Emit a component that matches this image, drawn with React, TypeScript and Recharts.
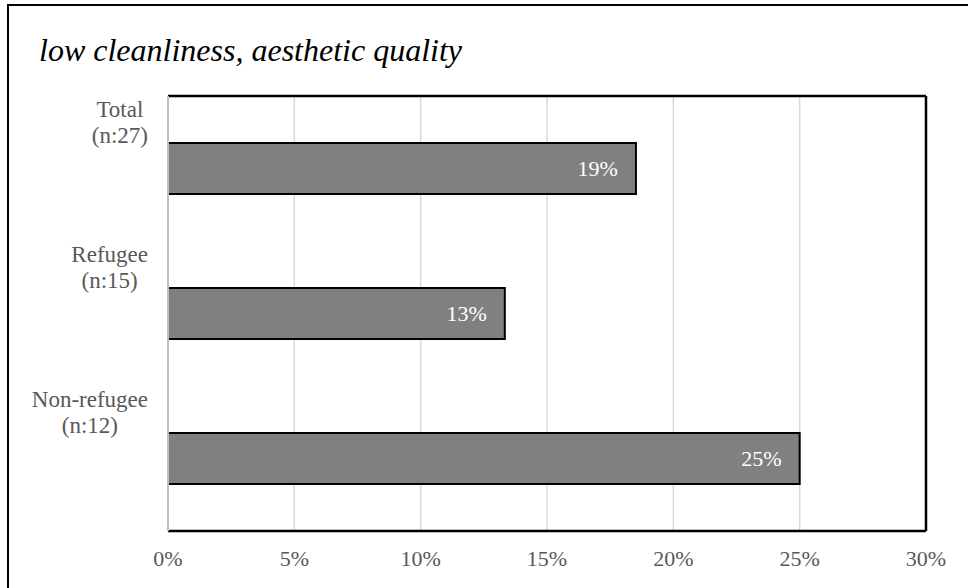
import React from 'react'
import {
  BarChart, Bar, XAxis, YAxis, CartesianGrid, LabelList, ReferenceLine,
} from 'recharts'

const CATEGORIES = ['Total', 'Refugee', 'Non-refugee']
const SAMPLE_SIZES = ['(n:27)', '(n:15)', '(n:12)']
const SHARES = [0.1852, 0.1333, 0.25]
const X_TICKS = [0, 0.05, 0.1, 0.15, 0.2, 0.25, 0.3]

const DATA = CATEGORIES.map((name, i) => ({ name, n: SAMPLE_SIZES[i], value: SHARES[i] }))

const FONT = '"Liberation Serif", "Times New Roman", serif'
const GREY_TEXT = '#595959'

const pct = (v: number) => `${Math.round(v * 100)}%`

function CategoryTick(props: any) {
  const { y, payload, index } = props
  const row = DATA[index] ?? DATA.find(d => d.name === payload.value)
  return (
    <foreignObject x={0} y={y - 46 - 26} width={148} height={52}>
      <div style={{ textAlign: 'right', fontFamily: FONT, fontSize: 23, lineHeight: '26px', color: GREY_TEXT }}>
        <span style={{ display: 'inline-block', textAlign: 'center' }}>
          {payload.value}<br />{row?.n}
        </span>
      </div>
    </foreignObject>
  )
}

export default function App() {
  return (
    <div style={{ position: 'relative', width: 968, height: 588, overflow: 'hidden', background: '#fff' }}>
      <style>{'body{margin:0}'}</style>
      <div style={{
        position: 'absolute', left: 7, top: 4, width: 1100, height: 800,
        border: '2px solid #000', boxSizing: 'border-box',
      }} />
      <div style={{
        position: 'absolute', left: 39, top: 30, fontFamily: FONT, fontStyle: 'italic',
        fontSize: 32, lineHeight: '40px', color: '#000', whiteSpace: 'nowrap',
      }}>
        low cleanliness, aesthetic quality
      </div>
      <div style={{ position: 'absolute', left: 0, top: 0 }}>
        <BarChart
          width={968}
          height={588}
          data={DATA}
          layout="vertical"
          margin={{ top: 95, right: 42, bottom: 0, left: 0 }}
        >
          <CartesianGrid horizontal={false} stroke="#d9d9d9" strokeWidth={1.5} />
          <XAxis
            type="number"
            domain={[0, 0.3]}
            ticks={X_TICKS}
            tickFormatter={pct}
            axisLine={{ stroke: '#000', strokeWidth: 2.5 }}
            tickLine={false}
            tickMargin={13}
            height={57}
            tick={{ fill: GREY_TEXT, fontSize: 22, fontFamily: FONT }}
          />
          <XAxis
            xAxisId="top"
            orientation="top"
            type="number"
            domain={[0, 0.3]}
            ticks={X_TICKS}
            axisLine={{ stroke: '#000', strokeWidth: 2.5 }}
            tickLine={false}
            tick={false}
            height={1}
          />
          <YAxis
            type="category"
            dataKey="name"
            width={168}
            axisLine={{ stroke: '#bfbfbf', strokeWidth: 2 }}
            tickLine={false}
            tick={<CategoryTick />}
            interval={0}
          />
          <ReferenceLine x={0.3} stroke="#000" strokeWidth={2.5} />
          <Bar
            dataKey="value"
            fill="#808080"
            stroke="#000"
            strokeWidth={2}
            barSize={51}
            isAnimationActive={false}
          >
            <LabelList
              dataKey="value"
              position="insideRight"
              offset={18}
              formatter={(v: any) => pct(Number(v))}
              fill="#fff"
              style={{ fontSize: 22, fontFamily: FONT }}
            />
          </Bar>
        </BarChart>
      </div>
    </div>
  )
}
